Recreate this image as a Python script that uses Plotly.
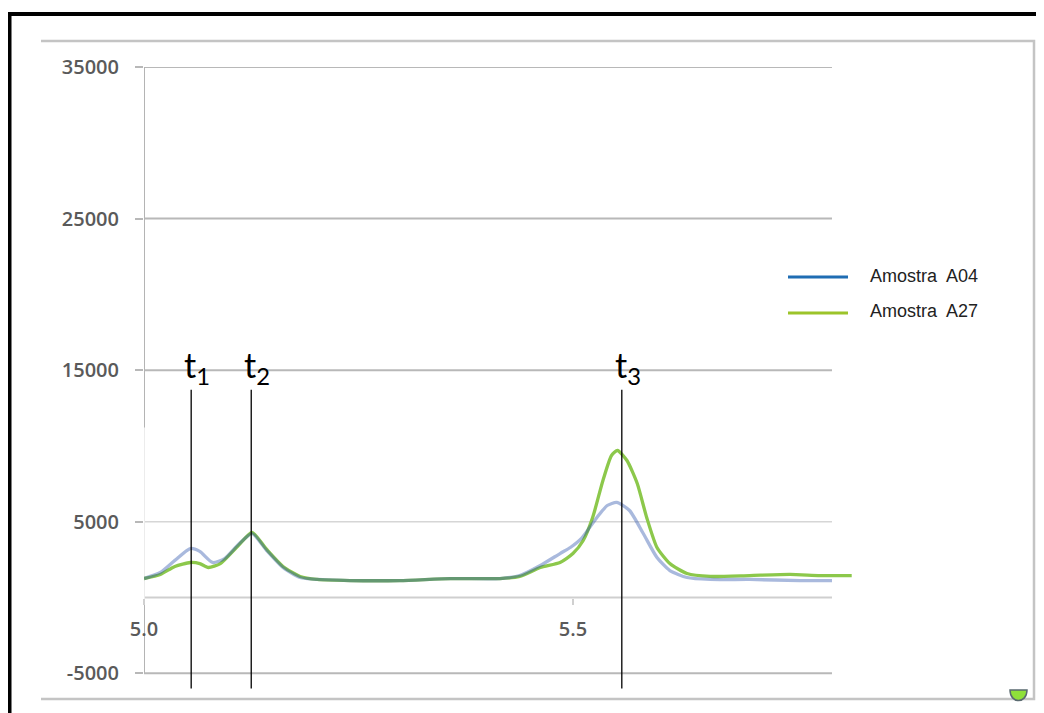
import plotly.graph_objects as go

# ---------------- data ----------------
time_a04 = [5.000, 5.019, 5.036, 5.054, 5.065, 5.080, 5.094, 5.110, 5.126, 5.143,
            5.162, 5.182, 5.202, 5.240, 5.298, 5.357, 5.415, 5.438, 5.462, 5.485,
            5.497, 5.510, 5.528, 5.540, 5.551, 5.566, 5.582, 5.598, 5.613, 5.633,
            5.660, 5.706, 5.765, 5.802]
int_a04 = [1250, 1650, 2450, 3230, 3040, 2310, 2570, 3500, 4220, 3100,
           1980, 1320, 1190, 1120, 1120, 1250, 1250, 1450, 2110, 2900,
           3300, 3900, 5280, 6070, 6270, 5740, 4220, 2640, 1780, 1320,
           1190, 1190, 1120, 1120]

time_a27 = [5.000, 5.019, 5.036, 5.054, 5.065, 5.075, 5.089, 5.110, 5.126, 5.143,
            5.162, 5.182, 5.202, 5.240, 5.298, 5.357, 5.415, 5.438, 5.462, 5.485,
            5.500, 5.512, 5.523, 5.535, 5.545, 5.552, 5.563, 5.575, 5.586, 5.598,
            5.613, 5.633, 5.660, 5.706, 5.753, 5.788, 5.825]
int_a27 = [1250, 1520, 2050, 2310, 2240, 1980, 2240, 3430, 4290, 3170,
           2050, 1390, 1190, 1120, 1120, 1250, 1250, 1390, 1980, 2310,
           2900, 3760, 5280, 7720, 9370, 9700, 9040, 7520, 5280, 3300,
           2240, 1580, 1390, 1450, 1520, 1450, 1450]

series_names = ["Amostra\u00a0 A04", "Amostra\u00a0 A27"]

ytick_vals = [-5000, 5000, 15000, 25000, 35000]
ytick_text = ["-5000", "5000", "15000", "25000", "35000"]
grid_vals = [35000, 25000, 15000, 5000, 0, -5000]
xtick_vals = [5.0, 5.5]
xtick_text = ["5.0", "5.5"]

marker_times = [5.055, 5.125, 5.557]
marker_subs = ["1", "2", "3"]
marker_top = 13700
marker_bottom = -6000

x_range = [5.0, 5.83]
x_grid_end = 5.802
y_range = [-6300, 35000]

# ---------------- geometry helpers (decoration only) ----------------
W, H = 1044, 713
OFF = 8  # default page margin of the html body
ML, MT = 144 - OFF, 67 - OFF
PW, PH = 712, 626
MR = W - ML - PW
MB = H - MT - PH


def pxx(px):
    return (px - OFF - ML) / PW


def pxy(py):
    return (H - MB - (py - OFF)) / PH


fig = go.Figure()

fig.add_trace(go.Scatter(x=time_a27, y=int_a27, mode="lines", name=series_names[1],
                         line=dict(color="#8cc84b", width=3.3, shape="spline", smoothing=0.6),
                         showlegend=False))
fig.add_trace(go.Scatter(x=time_a04, y=int_a04, mode="lines", name=series_names[0],
                         line=dict(color="rgba(40,80,170,0.40)", width=3.3, shape="spline", smoothing=0.6),
                         showlegend=False))

shapes = []
# gridlines
for g in grid_vals:
    col = "#b8b8b8"
    w = 2
    if g == 5000:
        col, w = "#d6d6d6", 1.6
    if g == 0:
        col, w = "#cfcfcf", 2
    shapes.append(dict(type="line", xref="x", yref="y", x0=x_range[0], x1=x_grid_end,
                       y0=g, y1=g, line=dict(color=col, width=w), layer="below"))
# y axis line (with faint middle part)
shapes.append(dict(type="line", xref="x", yref="y", x0=5.0, x1=5.0, y0=11200, y1=35000,
                   line=dict(color="#b4b4b4", width=2), layer="below"))
shapes.append(dict(type="line", xref="x", yref="y", x0=5.0, x1=5.0, y0=-500, y1=11200,
                   line=dict(color="#ececec", width=2), layer="below"))
shapes.append(dict(type="line", xref="x", yref="y", x0=5.0, x1=5.0, y0=-5000, y1=-500,
                   line=dict(color="#b4b4b4", width=2), layer="below"))
# marker lines t1..t3
for t in marker_times:
    shapes.append(dict(type="line", xref="x", yref="y", x0=t, x1=t, y0=marker_bottom, y1=marker_top,
                       line=dict(color="#000000", width=1.3), layer="above"))
# inner gray frame (top, right, bottom)
shapes.append(dict(type="path", xref="paper", yref="paper",
                   path=f"M {pxx(41)},{pxy(41)} L {pxx(1034)},{pxy(41)} L {pxx(1034)},{pxy(699)} L {pxx(41)},{pxy(699)}",
                   line=dict(color="#c4c4c4", width=2.5)))
# outer black border (left, top)
shapes.append(dict(type="path", xref="paper", yref="paper",
                   path=f"M {pxx(9.5)},{pxy(730)} L {pxx(9.5)},{pxy(14)} L {pxx(1060)},{pxy(14)}",
                   line=dict(color="#000000", width=4)))
# legend lines
shapes.append(dict(type="line", xref="paper", yref="paper", x0=pxx(788), x1=pxx(848),
                   y0=pxy(277), y1=pxy(277), line=dict(color="#1f6db3", width=3.2)))
shapes.append(dict(type="line", xref="paper", yref="paper", x0=pxx(788), x1=pxx(848),
                   y0=pxy(313), y1=pxy(313), line=dict(color="#9cc42a", width=3.2)))
# small green marker artifact at bottom-right corner
shapes.append(dict(type="path", xref="paper", yref="paper",
                   path=f"M {pxx(1010)},{pxy(690)} C {pxx(1010)},{pxy(704)} {pxx(1027)},{pxy(704)} {pxx(1027)},{pxy(690)} Z",
                   fillcolor="#8fe03a", line=dict(color="#5a6a70", width=1.5)))

annotations = []
for t, s in zip(marker_times, marker_subs):
    annotations.append(dict(x=t, y=pxy(392), xref="x", yref="paper", xanchor="left", yanchor="bottom",
                            xshift=-9, showarrow=False,
                            text=f"t<sub>{s}</sub>",
                            font=dict(family="Lato, Carlito, sans-serif", size=34, color="#000000")))
annotations.append(dict(x=pxx(868), y=pxy(276), xref="paper", yref="paper", xanchor="left", yanchor="middle",
                        showarrow=False, text=series_names[0],
                        font=dict(family="Liberation Sans, Arial, sans-serif", size=18, color="#222222")))
annotations.append(dict(x=pxx(868), y=pxy(311), xref="paper", yref="paper", xanchor="left", yanchor="middle",
                        showarrow=False, text=series_names[1],
                        font=dict(family="Liberation Sans, Arial, sans-serif", size=18, color="#222222")))

tick_font = dict(family="Open Sans, sans-serif", size=20, color="#5a5a5a", weight=600)

fig.update_layout(
    width=W, height=H,
    margin=dict(l=ML, r=MR, t=MT, b=MB, pad=0),
    paper_bgcolor="#ffffff", plot_bgcolor="#ffffff",
    shapes=shapes, annotations=annotations,
    showlegend=False,
    xaxis=dict(range=x_range, tickvals=xtick_vals, ticktext=xtick_text,
               showgrid=False, zeroline=False, showline=False,
               anchor="free", position=(0 - y_range[0]) / (y_range[1] - y_range[0]),
               ticks="outside", ticklen=6, tickwidth=1.5, tickcolor="#d0d0d0",
               ticklabelstandoff=7, tickfont=tick_font, automargin=False, fixedrange=True),
    yaxis=dict(range=y_range, tickvals=ytick_vals, ticktext=ytick_text,
               showgrid=False, zeroline=False, showline=False,
               ticks="outside", ticklen=8, tickwidth=2, tickcolor="#b8b8b8",
               ticklabelstandoff=12, tickfont=tick_font, automargin=False, fixedrange=True),
)

fig.write_html("out.html")
